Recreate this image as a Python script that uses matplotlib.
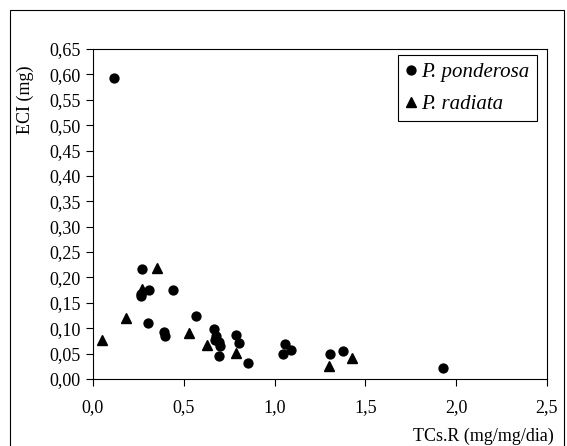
import matplotlib
matplotlib.use("Agg")
import matplotlib.pyplot as plt
from matplotlib.patches import Rectangle
from matplotlib.ticker import FuncFormatter, MultipleLocator

plt.rcParams["font.family"] = ["Liberation Serif", "DejaVu Serif"]
plt.rcParams["font.size"] = 13

# TCs.R (mg/mg/dia) vs ECI (mg)
pond_x = [0.114, 0.272, 0.311, 0.264, 0.266, 0.438, 0.304, 0.565, 0.389, 0.397,
          0.667, 0.680, 0.672, 0.695, 0.702, 0.692, 0.785, 0.803, 0.852,
          1.055, 1.046, 1.088, 1.304, 1.378, 1.925]
pond_y = [0.593, 0.216, 0.176, 0.168, 0.164, 0.176, 0.110, 0.125, 0.092, 0.085,
          0.098, 0.084, 0.077, 0.073, 0.065, 0.046, 0.086, 0.071, 0.031,
          0.068, 0.049, 0.058, 0.049, 0.055, 0.022]

rad_x = [0.048, 0.184, 0.269, 0.352, 0.530, 0.628, 0.790, 1.300, 1.424]
rad_y = [0.0775, 0.121, 0.178, 0.218, 0.091, 0.066, 0.052, 0.026, 0.041]

fig = plt.figure(figsize=(5.67, 4.46), dpi=100)
ax = fig.add_axes([93 / 567, 67 / 446, 454 / 567, 330 / 446])

ax.plot(pond_x, pond_y, "o", color="black", markersize=6.4, label="P. ponderosa",
        clip_on=False)
ax.plot(rad_x, rad_y, "^", color="black", markersize=7.2, label="P. radiata",
        clip_on=False)

ax.set_xlim(0, 2.5)
ax.set_ylim(0, 0.65)
ax.xaxis.set_major_locator(MultipleLocator(0.5))
ax.yaxis.set_major_locator(MultipleLocator(0.05))
ax.xaxis.set_major_formatter(FuncFormatter(lambda v, p: ("%.1f" % v).replace(".", ",")))
ax.yaxis.set_major_formatter(FuncFormatter(lambda v, p: ("%.2f" % v).replace(".", ",")))
ax.tick_params(axis="x", direction="out", length=5, width=0.8, pad=9.5)
ax.tick_params(axis="y", direction="out", length=5, width=0.8, pad=4)
for s in ax.spines.values():
    s.set_linewidth(0.8)

leg = ax.legend(loc="upper right", bbox_to_anchor=(0.978, 0.982), frameon=True,
                fancybox=False, edgecolor="black", framealpha=1,
                prop={"style": "italic", "size": 15}, handlelength=0.55,
                handletextpad=0.25, labelspacing=0.6, borderpad=0.35,
                borderaxespad=0)
leg.get_frame().set_linewidth(0.8)

fig.text(25 / 567, 1 - 100 / 446, "ECI (mg)", rotation=90, ha="center", va="center")
fig.text(554 / 567, 1 - 436 / 446, "TCs.R (mg/mg/dia)", ha="right", va="center")

# outer chart frame
fig.patches.append(Rectangle((10 / 567, -0.05), 554 / 567, 436 / 446 + 0.05,
                             transform=fig.transFigure, fill=False,
                             edgecolor="black", linewidth=0.8))

fig.savefig("out.png", dpi=100)
